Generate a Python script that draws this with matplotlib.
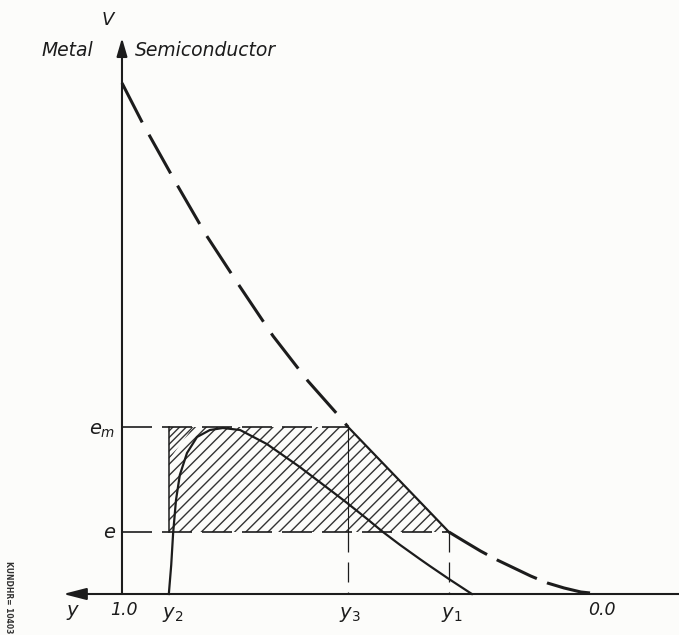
import matplotlib
matplotlib.use("Agg")
import matplotlib.pyplot as plt
from matplotlib.patches import Polygon

# ---------------- data ----------------
# horizontal coordinate y (1.0 at the metal, 0.0 deep in the semiconductor)
Y2, Y3, Y1 = 0.902, 0.527, 0.316
E_M, E = 1.67, 0.62          # energy levels e_m and e

# dashed potential curve V(y)
Y_DASH = [1.0, 0.956, 0.887, 0.824, 0.757, 0.684, 0.611, 0.548, 0.527,
          0.316, 0.285, 0.250, 0.215, 0.180, 0.145, 0.110, 0.075, 0.040, 0.0]
V_DASH = [5.11, 4.70, 4.11, 3.59, 3.10, 2.58, 2.13, 1.79, 1.67,
          0.62, 0.53, 0.43, 0.34, 0.26, 0.18, 0.11, 0.06, 0.02, 0.0]

# solid curve (with image force)
Y_SOLID = [0.902, 0.897, 0.893, 0.887, 0.879, 0.864, 0.843, 0.816, 0.789,
           0.753, 0.697, 0.628, 0.559, 0.529, 0.487, 0.454, 0.418, 0.377,
           0.356, 0.316, 0.268]
V_SOLID = [0.0, 0.29, 0.61, 0.94, 1.19, 1.41, 1.57, 1.64, 1.66,
           1.64, 1.50, 1.27, 1.02, 0.91, 0.75, 0.62, 0.49, 0.35,
           0.28, 0.15, 0.0]

# small densely hatched corner
TRI_Y = [Y2, 0.851, Y2]
TRI_V = [E_M, E_M, 1.34]

TICK_POS = [1.0, Y2, Y3, Y1, 0.0]
TICK_LABELS = ["1.0", "$y_\\mathit{2}$", "$y_\\mathit{3}$", "$y_\\mathit{1}$", "0.0"]

V_AXIS_TOP = 5.56
Y_AXIS_LEFT = 1.123
Y_AXIS_RIGHT = -0.17

# ---------------- style ----------------
BG = "#fcfcfa"
INK = "#1c1c1c"
HATCH_INK = "#333333"

plt.rcParams["mathtext.fontset"] = "dejavusans"
plt.rcParams["hatch.linewidth"] = 1.0

fig = plt.figure(figsize=(6.79, 6.35), dpi=100, facecolor=BG)
ax = fig.add_axes([0, 0, 1, 1])
ax.set_facecolor(BG)
ax.set_xlim(1.2552, -0.1653)
ax.set_ylim(-0.41, 5.94)
ax.axis("off")

# hatched region (main part)
main_poly = Polygon([(TRI_Y[1], E_M), (Y3, E_M), (Y1, E), (Y2, E), (Y2, TRI_V[2])],
                    closed=True, facecolor="none", edgecolor=HATCH_INK,
                    linewidth=0, hatch="///", zorder=1)
ax.add_patch(main_poly)
tri_poly = Polygon(list(zip(TRI_Y, TRI_V)), closed=True, facecolor="none",
                   edgecolor=HATCH_INK, linewidth=0, hatch="/////", zorder=1)
ax.add_patch(tri_poly)

# axes with arrows
ax.annotate("", xy=(1.0, V_AXIS_TOP), xytext=(1.0, 0.0),
            arrowprops=dict(arrowstyle="-|>,head_length=0.55,head_width=0.16",
                            lw=1.5, color=INK, shrinkA=0, shrinkB=0,
                            mutation_scale=20), zorder=5)
ax.annotate("", xy=(Y_AXIS_LEFT, 0.0), xytext=(Y_AXIS_RIGHT, 0.0),
            arrowprops=dict(arrowstyle="-|>,head_length=0.7,head_width=0.18",
                            lw=1.5, color=INK, shrinkA=0, shrinkB=0,
                            mutation_scale=20), zorder=5)

# dashed potential curve
ax.plot(Y_DASH[:9], V_DASH[:9], color=INK, lw=2.2, dashes=(14.5, 4.6),
        solid_capstyle="butt", dash_capstyle="butt", zorder=4)
ax.plot(Y_DASH[8:10], V_DASH[8:10], color=INK, lw=1.6, zorder=4)
ax.plot(Y_DASH[9:], V_DASH[9:], color=INK, lw=2.2, dashes=(14.5, 3.6),
        dash_capstyle="butt", zorder=4)

# solid curve
ax.plot(Y_SOLID, V_SOLID, color=INK, lw=1.6, zorder=4)

# energy level lines
ax.plot([1.0, Y3], [E_M, E_M], color=INK, lw=1.2, dashes=(18, 6), zorder=3)
ax.plot([1.0, Y1], [E, E], color=INK, lw=1.2, dashes=(18, 6), zorder=3)
ax.plot([Y2, Y2], [E_M, E], color=INK, lw=1.1, zorder=3)
ax.plot([Y3, Y3], [E_M, E], color=INK, lw=0.8, zorder=3)
ax.plot([Y3, Y3], [E, 0.0], color=INK, lw=0.9, dashes=(16, 8), zorder=3)
ax.plot([Y1, Y1], [E, 0.0], color=INK, lw=0.9, dashes=(16, 8), zorder=3)

# texts
tkw = dict(color=INK, style="italic")
ax.text(1.029, 5.74, "V", fontsize=13, ha="center", va="center", **tkw)
ax.text(1.115, 5.44, "Metal", fontsize=13.5, ha="center", va="center", **tkw)
ax.text(0.973, 5.44, "Semiconductor", fontsize=13.5, ha="left", va="center", **tkw)
ax.text(1.013, 1.63, "$e_m$", fontsize=14, ha="right", va="center", color=INK)
ax.text(1.013, 0.62, "$e$", fontsize=14, ha="right", va="center", color=INK)

ax.text(1.1025, -0.19, "$y$", fontsize=14, ha="center", va="center", color=INK)
offsets = [-0.004, -0.007, -0.004, -0.006, -0.004]
for pos, lab, off in zip(TICK_POS, TICK_LABELS, offsets):
    if lab.startswith("$"):
        ax.text(pos + off, -0.21, lab, fontsize=14, ha="center", va="center",
                color=INK)
    else:
        ax.text(pos + off, -0.16, lab, fontsize=12.5, ha="center", va="center",
                **tkw)

# scan margin stamp
fig.text(0.012, 0.06, "KUNDHR= 10403", rotation=-90, fontsize=5.5,
         fontweight="bold", color="#333333", ha="center", va="center")

fig.savefig("out.png", dpi=100, facecolor=BG)
